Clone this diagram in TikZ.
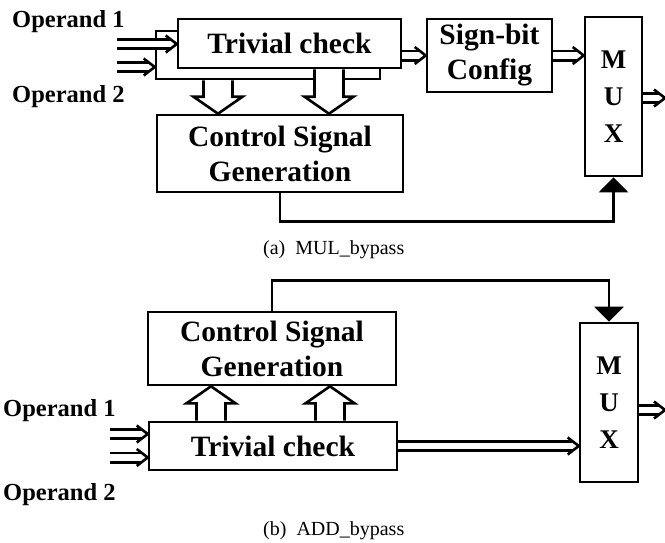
\documentclass[tikz,border=0pt]{standalone}
\usepackage{fontspec}
\setmainfont{Liberation Serif}
\usetikzlibrary{arrows.meta,calc}

\tikzset{
	block/.style={draw, line width=2.6pt, fill=white, inner sep=0pt, align=center,
		font=\fontsize{29.5}{35}\selectfont\bfseries},
	muxbox/.style={block, font=\fontsize{27}{37}\selectfont\bfseries},
	busline/.style={double, double distance=6.8pt, line width=2.6pt},
	bushead/.style={line width=2.6pt},
	ctl/.style={line width=2.6pt, -{Triangle[width=29pt,length=15pt]}},
	fatline/.style={line width=2.6pt},
	oplabel/.style={anchor=base west, inner sep=0pt, font=\fontsize{24.5}{29}\selectfont\bfseries},
	caption/.style={anchor=base west, inner sep=0pt, font=\fontsize{20}{24}\selectfont}
}

% double (bus) arrow from #1 to #2
\newcommand{\busarrow}[2]{%
	\path #1 coordinate (bs) #2 coordinate (bt);
	\path ($(bt)!11pt!(bs)$) coordinate (bh);
	\draw[busline] (bs) -- ($(bt)!6pt!(bs)$);
	\draw[bushead] ($(bh)!8.5pt!90:(bt)$) -- (bt) -- ($(bh)!8.5pt!-90:(bt)$);
}

% hollow block arrow from #1 to #2
\newcommand{\fatarrow}[2]{%
	\path #1 coordinate (fs) #2 coordinate (ft);
	\path ($(ft)!17pt!(fs)$) coordinate (fh) ($(fs)!1.3pt!(ft)$) coordinate (ff);
	\fill[white] ($(ff)!14.5pt!90:(ft)$) -- ($(fh)!14.5pt!-90:(fs)$) -- ($(fh)!24.5pt!-90:(fs)$) -- (ft)
		-- ($(fh)!24.5pt!90:(fs)$) -- ($(fh)!14.5pt!90:(fs)$) -- ($(ff)!14.5pt!-90:(ft)$) -- cycle;
	\draw[fatline] ($(fs)!14.5pt!90:(ft)$) -- ($(fh)!14.5pt!-90:(fs)$) -- ($(fh)!24.5pt!-90:(fs)$) -- (ft)
		-- ($(fh)!24.5pt!90:(fs)$) -- ($(fh)!14.5pt!90:(fs)$) -- ($(fs)!14.5pt!-90:(ft)$);
}

\begin{document}
\begin{tikzpicture}[x=1pt, y=-1pt]
	\useasboundingbox (0,0) rectangle (665,542);

	% (a) MUL_bypass
	\node[oplabel] (op1a) at (12,27) {Operand 1};
	\node[oplabel] (op2a) at (12,102) {Operand 2};

	\node[block, minimum width=246pt, minimum height=77pt] (csga) at (280,153.5) {Control Signal\\Generation};
	\node[block, minimum width=224pt, minimum height=48pt] (chkbacka) at (268,55) {};
	\node[block, minimum width=223pt, minimum height=49pt] (chka) at (289.5,43.5) {Trivial check};
	\node[block, minimum width=125pt, minimum height=73pt] (sba) at (489.5,55.5) {Sign-bit\\Config};
	\node[muxbox, minimum width=57pt, minimum height=159pt] (muxa) at (613.5,96.5) {M\\U\\X};

	\fatarrow{(218,0 |- chkbacka.south)}{(218,0 |- csga.north)}
	\fatarrow{(329,0 |- chka.south)}{(329,0 |- csga.north)}

	\coordinate (in1a) at (117,44);
	\coordinate (in2a) at (117,67);
	\coordinate (outa) at (665,98);

	\busarrow{(in1a)}{(in1a -| chka.west)}
	\busarrow{(in2a)}{(in2a -| chkbacka.west)}
	\busarrow{(sba.west -| chka.east)}{(sba.west)}
	\busarrow{(sba.east)}{(sba.east -| muxa.west)}
	\busarrow{(outa -| muxa.east)}{(outa)}
	\draw[ctl] (csga.south) -- ++(0,28) -| (muxa.south);

	\node[caption] (capa) at (263,254) {(a)\ \ MUL\_bypass};

	% (b) ADD_bypass
	\node[oplabel] (op1b) at (3,416) {Operand 1};
	\node[oplabel] (op2b) at (3,500) {Operand 2};

	\node[block, minimum width=248pt, minimum height=73pt] (csgb) at (272,348.5) {Control Signal\\Generation};
	\node[block, minimum width=248pt, minimum height=48pt] (chkb) at (273,446) {Trivial check};
	\node[muxbox, minimum width=58pt, minimum height=159pt] (muxb) at (609,402.5) {M\\U\\X};

	\fatarrow{(211,0 |- chkb.north)}{(211,0 |- csgb.south)}
	\fatarrow{(330,0 |- chkb.north)}{(330,0 |- csgb.south)}

	\coordinate (in1b) at (110,434);
	\coordinate (in2b) at (110,457.5);
	\coordinate (outb) at (665,410);

	\busarrow{(in1b)}{(in1b -| chkb.west)}
	\busarrow{(in2b)}{(in2b -| chkb.west)}
	\busarrow{(chkb.east)}{(chkb.east -| muxb.west)}
	\busarrow{(outb -| muxb.east)}{(outb)}
	\draw[ctl] (csgb.north) -- ++(0,-30) -| (muxb.north);

	\node[caption] (capb) at (263,535) {(b)\ \ ADD\_bypass};
\end{tikzpicture}
\end{document}
